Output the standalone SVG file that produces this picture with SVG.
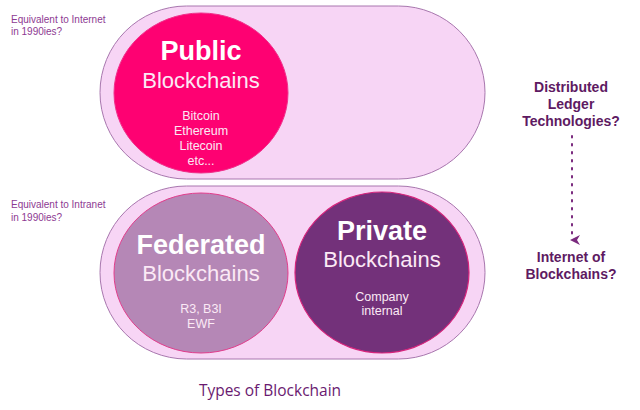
<svg xmlns="http://www.w3.org/2000/svg" width="640" height="410" viewBox="0 0 640 410">
<style>
.stadium{fill:#f7d5f5;stroke:#a877ae;stroke-width:1}
.t{font-family:"Liberation Sans",Arial,sans-serif;text-anchor:middle;fill:#fbe9f5}
.big{font-size:27px;font-weight:bold;fill:#ffffff}
.mid{font-size:22px}
.small{font-size:12.5px}
.side{font-family:"Liberation Sans",Arial,sans-serif;font-size:10px;fill:#8e3a92}
.right{font-family:"Liberation Sans",Arial,sans-serif;font-size:14px;font-weight:bold;fill:#5e1a62;text-anchor:middle}
</style>
<defs>
<marker id="arr" viewBox="0 0 10 10" refX="5" refY="8" markerWidth="10" markerHeight="10" markerUnits="userSpaceOnUse" orient="auto">
<path d="M0,0 L5,3 L10,0 L5,10 Z" fill="#7a2a7e"/>
</marker>
</defs>
<rect width="640" height="410" fill="#ffffff"/>
<g id="public-group">
<rect class="stadium" x="100" y="6" width="385" height="173" rx="86.5" ry="86.5"/>
</g>
<g id="permissioned-group">
<rect class="stadium" x="100" y="186" width="385" height="173" rx="86.5" ry="86.5"/>
</g>
<g id="public">
<ellipse cx="201" cy="93" rx="87" ry="80" fill="#fe0172" stroke="#f0308a" stroke-width="1"/>
<text class="t big" x="201" y="60">Public</text>
<text class="t mid" x="201" y="88">Blockchains</text>
<text class="t small" x="201" y="120">Bitcoin</text>
<text class="t small" x="201" y="135">Ethereum</text>
<text class="t small" x="201" y="150">Litecoin</text>
<text class="t small" x="201" y="165">etc...</text>
</g>
<g id="federated">
<ellipse cx="201" cy="273" rx="87" ry="80" fill="#b587b6" stroke="#e23d8c" stroke-width="1"/>
<text class="t big" x="201" y="254">Federated</text>
<text class="t mid" x="201" y="281">Blockchains</text>
<text class="t small" x="201" y="313">R3, B3I</text>
<text class="t small" x="201" y="328">EWF</text>
</g>
<g id="private">
<ellipse cx="382" cy="272.5" rx="87" ry="80.5" fill="#73317a" stroke="#d8247c" stroke-width="1.2"/>
<text class="t big" x="382" y="240">Private</text>
<text class="t mid" x="382" y="267">Blockchains</text>
<text class="t small" x="382" y="301">Company</text>
<text class="t small" x="382" y="315">internal</text>
</g>
<g id="label-internet">
<text class="side" x="11" y="23">Equivalent to Internet</text>
<text class="side" x="11" y="35">in 1990ies?</text>
</g>
<g id="label-intranet">
<text class="side" x="11" y="208">Equivalent to Intranet</text>
<text class="side" x="11" y="221">in 1990ies?</text>
</g>
<g id="dlt">
<text class="right" x="571" y="92">Distributed</text>
<text class="right" x="571" y="109">Ledger</text>
<text class="right" x="571" y="126">Technologies?</text>
</g>
<g id="iob">
<text class="right" x="571" y="262">Internet of</text>
<text class="right" x="571" y="279">Blockchains?</text>
</g>
<g id="connectors">
<line x1="572" y1="136" x2="572" y2="240" stroke="#7a2a7e" stroke-width="2" stroke-dasharray="1.5 6.5" stroke-linecap="round" marker-end="url(#arr)"/>
</g>
<text x="270" y="396" font-family="'Open Sans',sans-serif" font-size="15.5" fill="#6a1a70" text-anchor="middle">Types of Blockchain</text>
</svg>
